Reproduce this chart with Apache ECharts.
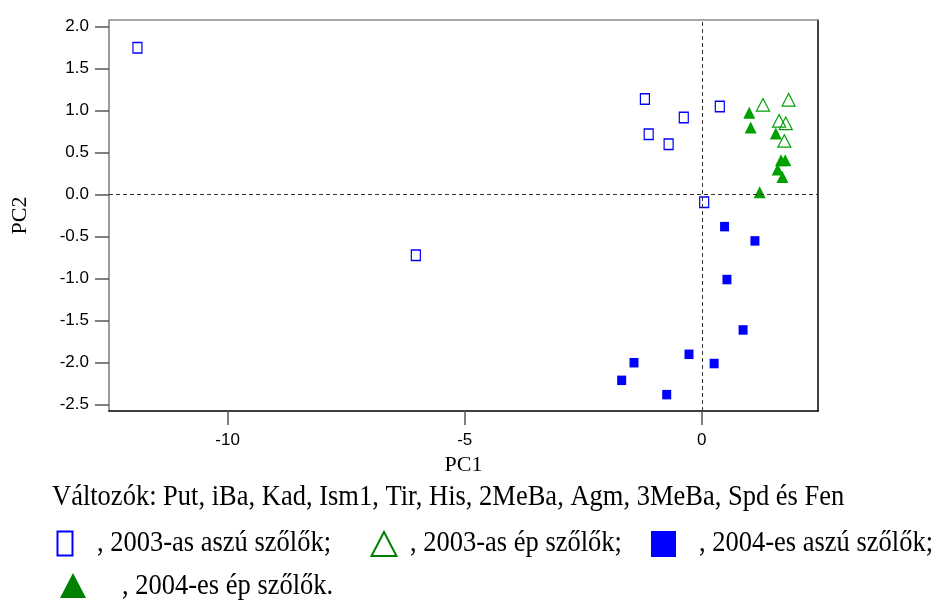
<!DOCTYPE html>
<html>
<head>
<meta charset="utf-8">
<script src="https://cdn.jsdelivr.net/npm/echarts@6/dist/echarts.min.js"></script>
<style>
  html, body { margin: 0; padding: 0; background: #ffffff; }
  #chart { width: 936px; height: 603px; }
</style>
</head>
<body>
<div id="chart"></div>
<script>
// Tick values shown on the two axes
const xTicks = [-10, -5, 0];
const yTicks = [-2.5, -2.0, -1.5, -1.0, -0.5, 0.0, 0.5, 1.0, 1.5, 2.0];

// PCA scores [PC1, PC2] per sample group
const aszu2003 = [[-11.90, 1.75], [-6.03, -0.72], [-1.20, 1.14], [-1.12, 0.72], [-0.70, 0.60],
                  [-0.38, 0.92], [0.38, 1.05], [0.05, -0.09]];
const ep2003 = [[1.29, 1.07], [1.83, 1.13], [1.63, 0.88], [1.77, 0.85], [1.74, 0.64]];
const aszu2004 = [[0.48, -0.38], [1.12, -0.55], [0.53, -1.01], [0.87, -1.61], [-0.27, -1.90],
                  [-1.43, -2.00], [0.26, -2.01], [-1.69, -2.21], [-0.74, -2.38]];
const ep2004 = [[1.00, 0.975], [1.03, 0.80], [1.56, 0.73], [1.67, 0.41], [1.76, 0.41],
                [1.60, 0.30], [1.70, 0.21], [1.22, 0.03]];

const groupNames = [', 2003-as aszú szőlők;', ', 2003-as ép szőlők;', ', 2004-es aszú szőlők;', ', 2004-es ép szőlők.'];
const variablesNote = 'Változók: Put, iBa, Kad, Ism1, Tir, His, 2MeBa, Agm, 3MeBa, Spd és Fen';

const BLUE = '#0000ff';
const GREEN = '#00a000';
const DARK_GREEN = '#008000';
const SERIF = '"Liberation Serif", "Times New Roman", serif';
const SANS = '"Liberation Sans", Arial, sans-serif';

const chart = echarts.init(document.getElementById('chart'), null, { renderer: 'canvas' });

// Caption text: slightly tall serif lettering
function legendText(x, y, text) {
  return {
    type: 'text', x: x, y: y, scaleY: 1.1,
    style: { text: text, verticalAlign: 'middle', fontFamily: SERIF, fontSize: 26.5, fill: '#000' }
  };
}

chart.setOption({
  animation: false,
  backgroundColor: '#ffffff',
  grid: { left: 109, right: 118, top: 20, bottom: 192, containLabel: false, outerBoundsMode: 'none' },
  xAxis: [{
    type: 'value', min: -12.5, max: 2.45,
    axisLine: { show: true, onZero: false, lineStyle: { color: '#000', width: 1.5 } },
    axisTick: { show: true, customValues: xTicks, length: 14, lineStyle: { color: '#555', width: 1.5 } },
    axisLabel: { customValues: xTicks, margin: 21, color: '#000', fontFamily: SANS, fontSize: 17 },
    splitLine: { show: false },
    name: 'PC1', nameLocation: 'middle', nameGap: 40,
    nameTextStyle: { fontFamily: SERIF, fontSize: 22, color: '#000' }
  }, {
    type: 'value', position: 'top', min: -12.5, max: 2.45,
    axisLine: { show: true, onZero: false, lineStyle: { color: '#8c8c8c', width: 1.5 } },
    axisTick: { show: false }, axisLabel: { show: false }, splitLine: { show: false }
  }],
  yAxis: [{
    type: 'value', min: -2.575, max: 2.08,
    axisLine: { show: true, onZero: false, lineStyle: { color: '#7a7a7a', width: 1.5 } },
    axisTick: { show: true, customValues: yTicks, length: 14, lineStyle: { color: '#555', width: 1.5 } },
    axisLabel: { customValues: yTicks, margin: 20, color: '#000', fontFamily: SANS, fontSize: 17,
                 formatter: v => v.toFixed(1) },
    splitLine: { show: false },
    name: 'PC2', nameLocation: 'middle', nameGap: 78,
    nameTextStyle: { fontFamily: SERIF, fontSize: 22, color: '#000' }
  }, {
    type: 'value', position: 'right', min: -2.575, max: 2.08,
    axisLine: { show: true, onZero: false, lineStyle: { color: '#000', width: 1.5 } },
    axisTick: { show: false }, axisLabel: { show: false }, splitLine: { show: false }
  }],
  series: [
    {
      name: groupNames[0], type: 'scatter', data: aszu2003,
      symbol: 'rect', symbolSize: [9, 10.5],
      itemStyle: { color: 'rgba(255,255,255,0)', borderColor: BLUE, borderWidth: 1.3, opacity: 1 },
      markLine: {
        silent: true, symbol: 'none', label: { show: false },
        lineStyle: { color: '#333', type: [4, 3], width: 1 },
        data: [{ xAxis: 0 }, { yAxis: 0 }]
      },
      z: 3
    },
    {
      name: groupNames[1], type: 'scatter', data: ep2003,
      symbol: 'triangle', symbolSize: [13, 12.5],
      itemStyle: { color: 'rgba(255,255,255,0)', borderColor: GREEN, borderWidth: 1.2, opacity: 1 },
      z: 3
    },
    {
      name: groupNames[2], type: 'scatter', data: aszu2004,
      symbol: 'rect', symbolSize: [9, 9.5],
      itemStyle: { color: BLUE, opacity: 1 },
      z: 3
    },
    {
      name: groupNames[3], type: 'scatter', data: ep2004,
      symbol: 'triangle', symbolSize: [12, 12],
      itemStyle: { color: GREEN, opacity: 1 },
      z: 3
    }
  ],
  graphic: [
    legendText(52, 497, variablesNote),
    { type: 'rect', shape: { x: 57.5, y: 531.5, width: 15, height: 24 },
      style: { fill: 'none', stroke: BLUE, lineWidth: 2 } },
    legendText(97, 543, groupNames[0]),
    { type: 'polygon', shape: { points: [[384, 532], [396.5, 556], [371.5, 556]] },
      style: { fill: 'none', stroke: DARK_GREEN, lineWidth: 2 } },
    legendText(410, 543, groupNames[1]),
    { type: 'rect', shape: { x: 651, y: 531, width: 25, height: 26 },
      style: { fill: BLUE } },
    legendText(699, 543, groupNames[2]),
    { type: 'polygon', shape: { points: [[73, 573], [86, 598], [60, 598]] },
      style: { fill: DARK_GREEN } },
    legendText(122, 586, groupNames[3])
  ]
});
</script>
</body>
</html>
